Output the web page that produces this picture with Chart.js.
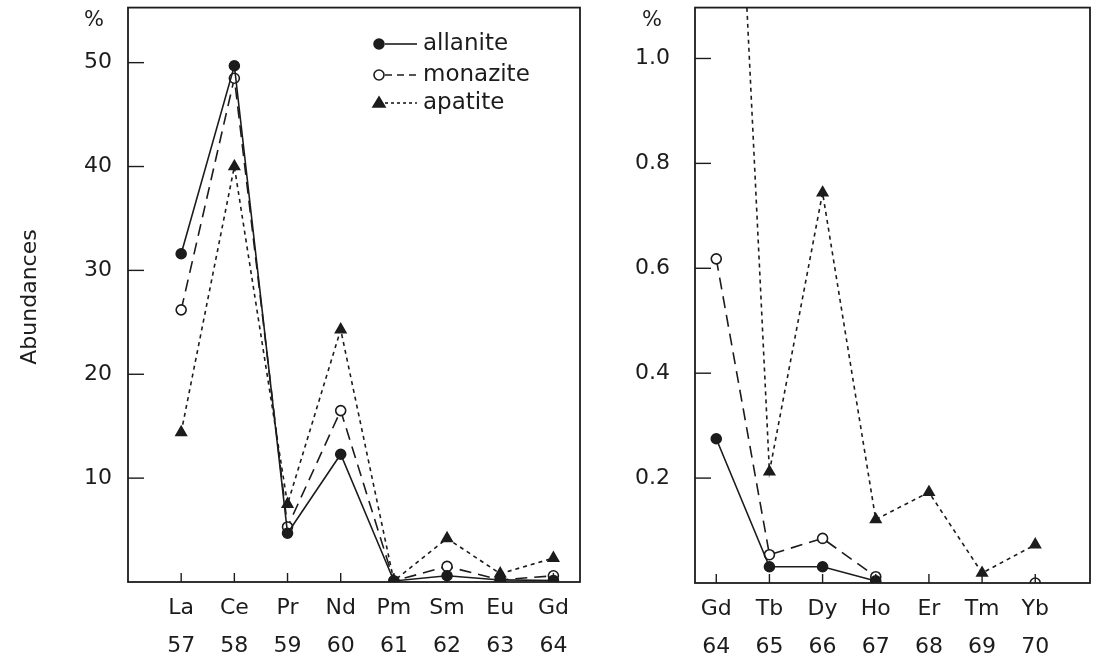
<!DOCTYPE html>
<html>
<head>
<meta charset="utf-8">
<script src="https://cdn.jsdelivr.net/npm/chart.js@4/dist/chart.umd.min.js"></script>
<style>
body { margin: 0; background: #fff; width: 1098px; height: 662px; overflow: hidden; position: relative; }
#leftBox { position: absolute; left: 0; top: 0; width: 590px; height: 662px; }
#rightBox { position: absolute; left: 590px; top: 0; width: 508px; height: 662px; }
</style>
</head>
<body>
<div id="leftBox"><canvas id="leftChart" width="590" height="662"></canvas></div>
<div id="rightBox"><canvas id="rightChart" width="508" height="662"></canvas></div>
<script>
// light rare earths (left panel), percent
const lightSymbols = ['La', 'Ce', 'Pr', 'Nd', 'Pm', 'Sm', 'Eu', 'Gd'];
const lightNumbers = [57, 58, 59, 60, 61, 62, 63, 64];
const allaniteLight = [31.6, 49.7, 4.7, 12.3, 0.1, 0.6, 0.2, 0.15];
const monaziteLight = [26.2, 48.5, 5.3, 16.5, 0.1, 1.5, 0.2, 0.6];
const apatiteLight = [14.4, 40.0, 7.5, 24.3, 0.1, 4.2, 0.8, 2.3];
const leftTicks = [10, 20, 30, 40, 50];

// heavy rare earths (right panel), percent
const heavySymbols = ['Gd', 'Tb', 'Dy', 'Ho', 'Er', 'Tm', 'Yb'];
const heavyNumbers = [64, 65, 66, 67, 68, 69, 70];
const allaniteHeavy = [0.275, 0.031, 0.031, 0.004, null, null, null];
const monaziteHeavy = [0.618, 0.054, 0.085, 0.012, null, null, 0];
const apatiteHeavy = [2.3, 0.212, 0.744, 0.121, 0.173, 0.019, 0.073];
const rightTicks = [0.2, 0.4, 0.6, 0.8, 1.0];

const seriesNames = ['allanite', 'monazite', 'apatite'];

const INK = '#1c1c1c';
const FONT = '"DejaVu Sans", sans-serif';

function toPoints(xs, ys) {
    return xs.map((x, i) => ({ x: x, y: ys[i] }));
}

function makeDatasets(xs, a, m, p) {
    return [
        {
            label: seriesNames[0], data: toPoints(xs, a),
            borderColor: INK, borderWidth: 1.6, backgroundColor: INK,
            pointStyle: 'circle', pointRadius: 5, pointBackgroundColor: INK, pointBorderColor: INK
        },
        {
            label: seriesNames[1], data: toPoints(xs, m),
            borderColor: INK, borderWidth: 1.6, borderDash: [12, 7], backgroundColor: '#fff',
            pointStyle: 'circle', pointRadius: 5, pointBackgroundColor: '#fff', pointBorderColor: INK, pointBorderWidth: 1.6
        },
        {
            label: seriesNames[2], data: toPoints(xs, p),
            borderColor: INK, borderWidth: 1.6, borderDash: [4, 4], backgroundColor: INK,
            pointStyle: 'triangle', pointRadius: 6, pointBackgroundColor: INK, pointBorderColor: INK
        }
    ];
}

function drawMarker(ctx, kind, x, y) {
    ctx.save();
    ctx.setLineDash([]);
    ctx.lineWidth = 1.6;
    ctx.strokeStyle = INK;
    ctx.beginPath();
    if (kind === 'triangle') {
        ctx.moveTo(x, y - 6);
        ctx.lineTo(x + 6, y + 4);
        ctx.lineTo(x - 6, y + 4);
        ctx.closePath();
        ctx.fillStyle = INK;
    } else {
        ctx.arc(x, y, 5, 0, Math.PI * 2);
        ctx.fillStyle = kind === 'open' ? '#fff' : INK;
    }
    ctx.fill();
    ctx.stroke();
    ctx.restore();
}

// frame, inward tick marks, % sign, legend and axis title
const decorPlugin = {
    id: 'decor',
    afterDraw(chart, args, opts) {
        const ctx = chart.ctx;
        const area = chart.chartArea;
        const xs = chart.scales.x;
        const ys = chart.scales.y;
        ctx.save();
        ctx.strokeStyle = INK;
        ctx.lineWidth = 1.8;
        ctx.setLineDash([]);
        ctx.strokeRect(area.left, area.top, area.right - area.left, area.bottom - area.top);

        ctx.lineWidth = 1.4;
        ys.ticks.forEach(t => {
            const py = ys.getPixelForValue(t.value);
            ctx.beginPath();
            ctx.moveTo(area.left, py);
            ctx.lineTo(area.left + 16, py);
            ctx.stroke();
        });
        xs.ticks.forEach(t => {
            const px = xs.getPixelForValue(t.value);
            ctx.beginPath();
            ctx.moveTo(px, area.bottom);
            ctx.lineTo(px, area.bottom - 9);
            ctx.stroke();
        });

        ctx.fillStyle = INK;
        ctx.font = '21px ' + FONT;
        ctx.textAlign = 'center';
        ctx.textBaseline = 'middle';
        ctx.fillText('%', opts.percentX, 21);

        if (opts.legend) {
            const rows = [
                { y: 44, kind: 'filled', dash: [], text: seriesNames[0] },
                { y: 75, kind: 'open', dash: [7, 5], text: seriesNames[1] },
                { y: 103, kind: 'triangle', dash: [3, 3], text: seriesNames[2] }
            ];
            rows.forEach(r => {
                ctx.save();
                ctx.lineWidth = 1.6;
                ctx.setLineDash(r.dash);
                ctx.beginPath();
                ctx.moveTo(385, r.y);
                ctx.lineTo(417, r.y);
                ctx.stroke();
                ctx.restore();
                drawMarker(ctx, r.kind, 379, r.y);
                ctx.textAlign = 'left';
                ctx.font = '23px ' + FONT;
                ctx.fillText(r.text, 423, r.y);
            });
        }

        if (opts.title) {
            ctx.save();
            ctx.translate(30, 297);
            ctx.rotate(-Math.PI / 2);
            ctx.textAlign = 'center';
            ctx.textBaseline = 'middle';
            ctx.font = '22px ' + FONT;
            ctx.fillText(opts.title, 0, 0);
            ctx.restore();
        }
        ctx.restore();
    }
};

function makeChart(canvasId, cfg) {
    return new Chart(document.getElementById(canvasId).getContext('2d'), {
        type: 'line',
        data: { datasets: cfg.datasets },
        options: {
            responsive: false,
            animation: false,
            layout: { padding: { left: 0, top: 7, right: cfg.padRight, bottom: 0 } },
            plugins: {
                legend: { display: false },
                tooltip: { enabled: false },
                decor: { percentX: cfg.percentX, legend: cfg.legend, title: cfg.title }
            },
            scales: {
                x: {
                    type: 'linear',
                    min: cfg.xMin,
                    max: cfg.xMax,
                    afterBuildTicks: s => { s.ticks = cfg.numbers.map(v => ({ value: v })); },
                    afterFit: s => { s.height = cfg.xHeight; s.paddingLeft = 0; s.paddingRight = 0; },
                    grid: { display: false },
                    border: { display: false },
                    ticks: {
                        color: INK,
                        padding: 0,
                        maxRotation: 0,
                        autoSkip: false,
                        font: { family: FONT, size: 22, lineHeight: 1.7 },
                        callback: v => [cfg.symbols[cfg.numbers.indexOf(v)], String(v)]
                    }
                },
                y: {
                    min: 0,
                    max: cfg.yMax,
                    afterBuildTicks: s => { s.ticks = cfg.yTicks.map(v => ({ value: v })); },
                    afterFit: s => { s.width = cfg.yWidth; s.paddingTop = 0; s.paddingBottom = 0; },
                    grid: { display: false, drawTicks: false },
                    border: { display: false },
                    ticks: {
                        color: INK,
                        padding: cfg.yPad,
                        font: { family: FONT, size: 22 },
                        callback: cfg.yFormat
                    }
                }
            }
        },
        plugins: [decorPlugin]
    });
}

makeChart('leftChart', {
    datasets: makeDatasets(lightNumbers, allaniteLight, monaziteLight, apatiteLight),
    symbols: lightSymbols, numbers: lightNumbers,
    xMin: 56, xMax: 64.5, yMax: 55.3, yTicks: leftTicks,
    yFormat: v => String(v),
    padRight: 10, yWidth: 128, xHeight: 80, yPad: 16,
    percentX: 94, legend: true, title: 'Abundances'
});

makeChart('rightChart', {
    datasets: makeDatasets(heavyNumbers, allaniteHeavy, monaziteHeavy, apatiteHeavy),
    symbols: heavySymbols, numbers: heavyNumbers,
    xMin: 63.6, xMax: 71.03, yMax: 1.097, yTicks: rightTicks,
    yFormat: v => v.toFixed(1),
    padRight: 8, yWidth: 105, xHeight: 79, yPad: 25,
    percentX: 62, legend: false, title: null
});
</script>
</body>
</html>
